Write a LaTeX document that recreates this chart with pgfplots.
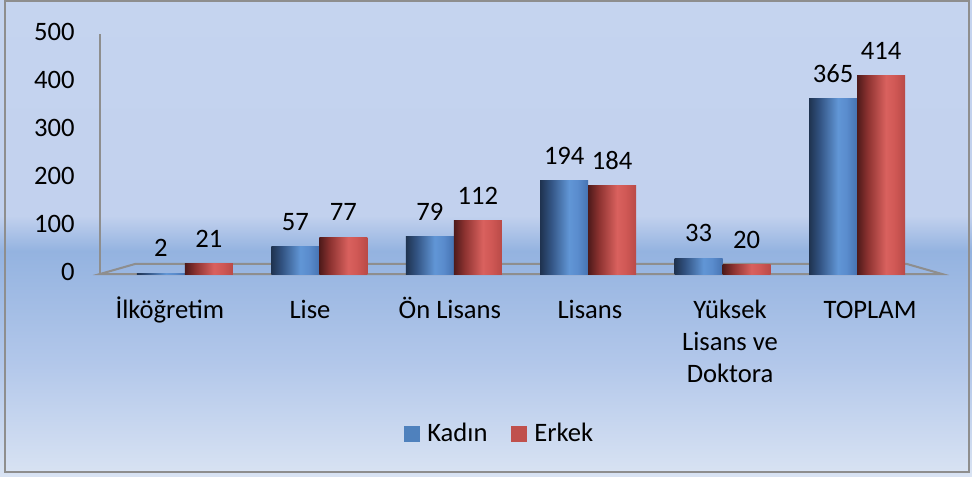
\documentclass[border=0pt]{standalone}
\usepackage{fontspec}
\setmainfont{Carlito}
\usepackage{pgfplots}
\pgfplotsset{compat=1.18}
\definecolor{bluebar}{HTML}{4F81BD}
\definecolor{redbar}{HTML}{C0504D}
\definecolor{axgray}{HTML}{8E8E8E}
\pgfdeclareverticalshading{bgshade}{100bp}{
  color(0bp)=(rgb,255:red,217;green,227;blue,243);
  color(25bp)=(rgb,255:red,217;green,227;blue,243);
  color(37bp)=(rgb,255:red,178;green,199;blue,234);
  color(48.7bp)=(rgb,255:red,148;green,179;blue,224);
  color(52.4bp)=(rgb,255:red,194;green,209;blue,238);
  color(75bp)=(rgb,255:red,197;green,212;blue,239);
  color(100bp)=(rgb,255:red,197;green,212;blue,239)}
\pgfdeclarehorizontalshading{cylblue}{100bp}{
  color(0bp)=(rgb,255:red,31;green,51;blue,80);
  color(25bp)=(rgb,255:red,31;green,51;blue,80);
  color(36bp)=(rgb,255:red,50;green,83;blue,130);
  color(55bp)=(rgb,255:red,97;green,150;blue,214);
  color(64bp)=(rgb,255:red,90;green,140;blue,205);
  color(75bp)=(rgb,255:red,70;green,115;blue,178);
  color(100bp)=(rgb,255:red,70;green,115;blue,178)}
\pgfdeclarehorizontalshading{cylred}{100bp}{
  color(0bp)=(rgb,255:red,78;green,26;blue,26);
  color(25bp)=(rgb,255:red,78;green,26;blue,26);
  color(36bp)=(rgb,255:red,140;green,50;blue,48);
  color(55bp)=(rgb,255:red,217;green,97;blue,94);
  color(64bp)=(rgb,255:red,208;green,88;blue,85);
  color(75bp)=(rgb,255:red,185;green,74;blue,71);
  color(100bp)=(rgb,255:red,185;green,74;blue,71)}
\pgfplotsset{
  kad/.style={draw=none, shading=cylblue, bar shift=-0.1785, forget plot},
  erk/.style={draw=none, shading=cylred, bar shift=0.1785, forget plot},
}
\newcommand\cfont{\fontsize{13.3}{16}\selectfont}
\begin{document}
\begin{tikzpicture}
\shade[shading=bgshade] (0pt,0pt) rectangle (486pt,237.5pt);
\draw[axgray, line width=1pt] (2.5pt,2pt) rectangle (484.5pt,237.5pt);
\begin{axis}[
  at={(50pt,101pt)}, anchor=south west,
  scale only axis, width=421pt, height=120pt,
  xmin=-0.632, xmax=5.632, ymin=0, ymax=500,
  axis x line*=bottom,
  axis y line*=left,
  x axis line style={draw=none},
  y axis line style={axgray, line width=1pt},
  ytick={0,100,200,300,400,500},
  xtick={-0.112,0.930,1.971,3.013,4.055,5.097},
  xticklabels={İlköğretim, Lise, Ön Lisans, Lisans, {Yüksek\\Lisans ve\\Doktora}, TOPLAM},
  major tick length=0pt,
  /pgf/number format/assume math mode=true,
  tick label style={font=\cfont},
  yticklabel style={anchor=east, inner sep=0pt, xshift=-12.5pt},
  xticklabel style={align=center, anchor=north, inner sep=0pt, yshift=-11pt},
  typeset ticklabels with strut,
  ybar=0pt, bar width=0.357,
  nodes near coords,
  every node near coord/.append style={font=\cfont, text=black, anchor=south, yshift=4.5pt},
  legend style={at={(rel axis cs:0.476,-0.667)}, anchor=center, draw=none, fill=none,
    font=\cfont, legend columns=2,
    /tikz/every odd column/.append style={column sep=1.5pt},
    /tikz/every even column/.append style={column sep=10pt}},
  clip=false,
]
\draw[axgray, line width=1pt] (rel axis cs:0,0) -- ([shift={(17.5pt,5pt)}]rel axis cs:0,0) -- ([shift={(-17.5pt,5pt)}]rel axis cs:1,0) -- (rel axis cs:1,0) -- cycle;
% Kadin
\addplot[kad] coordinates {(0,2)};
\addplot[kad] coordinates {(1,57)};
\addplot[kad] coordinates {(2,79)};
\addplot[kad] coordinates {(3,194)};
\addplot[kad] coordinates {(4,33)};
\addplot[kad] coordinates {(5,365)};
% Erkek
\addplot[erk] coordinates {(0,21)};
\addplot[erk] coordinates {(1,77)};
\addplot[erk] coordinates {(2,112)};
\addplot[erk] coordinates {(3,184)};
\addplot[erk] coordinates {(4,20)};
\addplot[erk] coordinates {(5,414)};
\addlegendimage{legend image code/.code={\fill[bluebar] (0pt,-3.75pt) rectangle (7.5pt,3.75pt);}}
\addlegendentry{Kadın}
\addlegendimage{legend image code/.code={\fill[redbar] (0pt,-3.75pt) rectangle (7.5pt,3.75pt);}}
\addlegendentry{Erkek}
\end{axis}
\end{tikzpicture}
\end{document}
